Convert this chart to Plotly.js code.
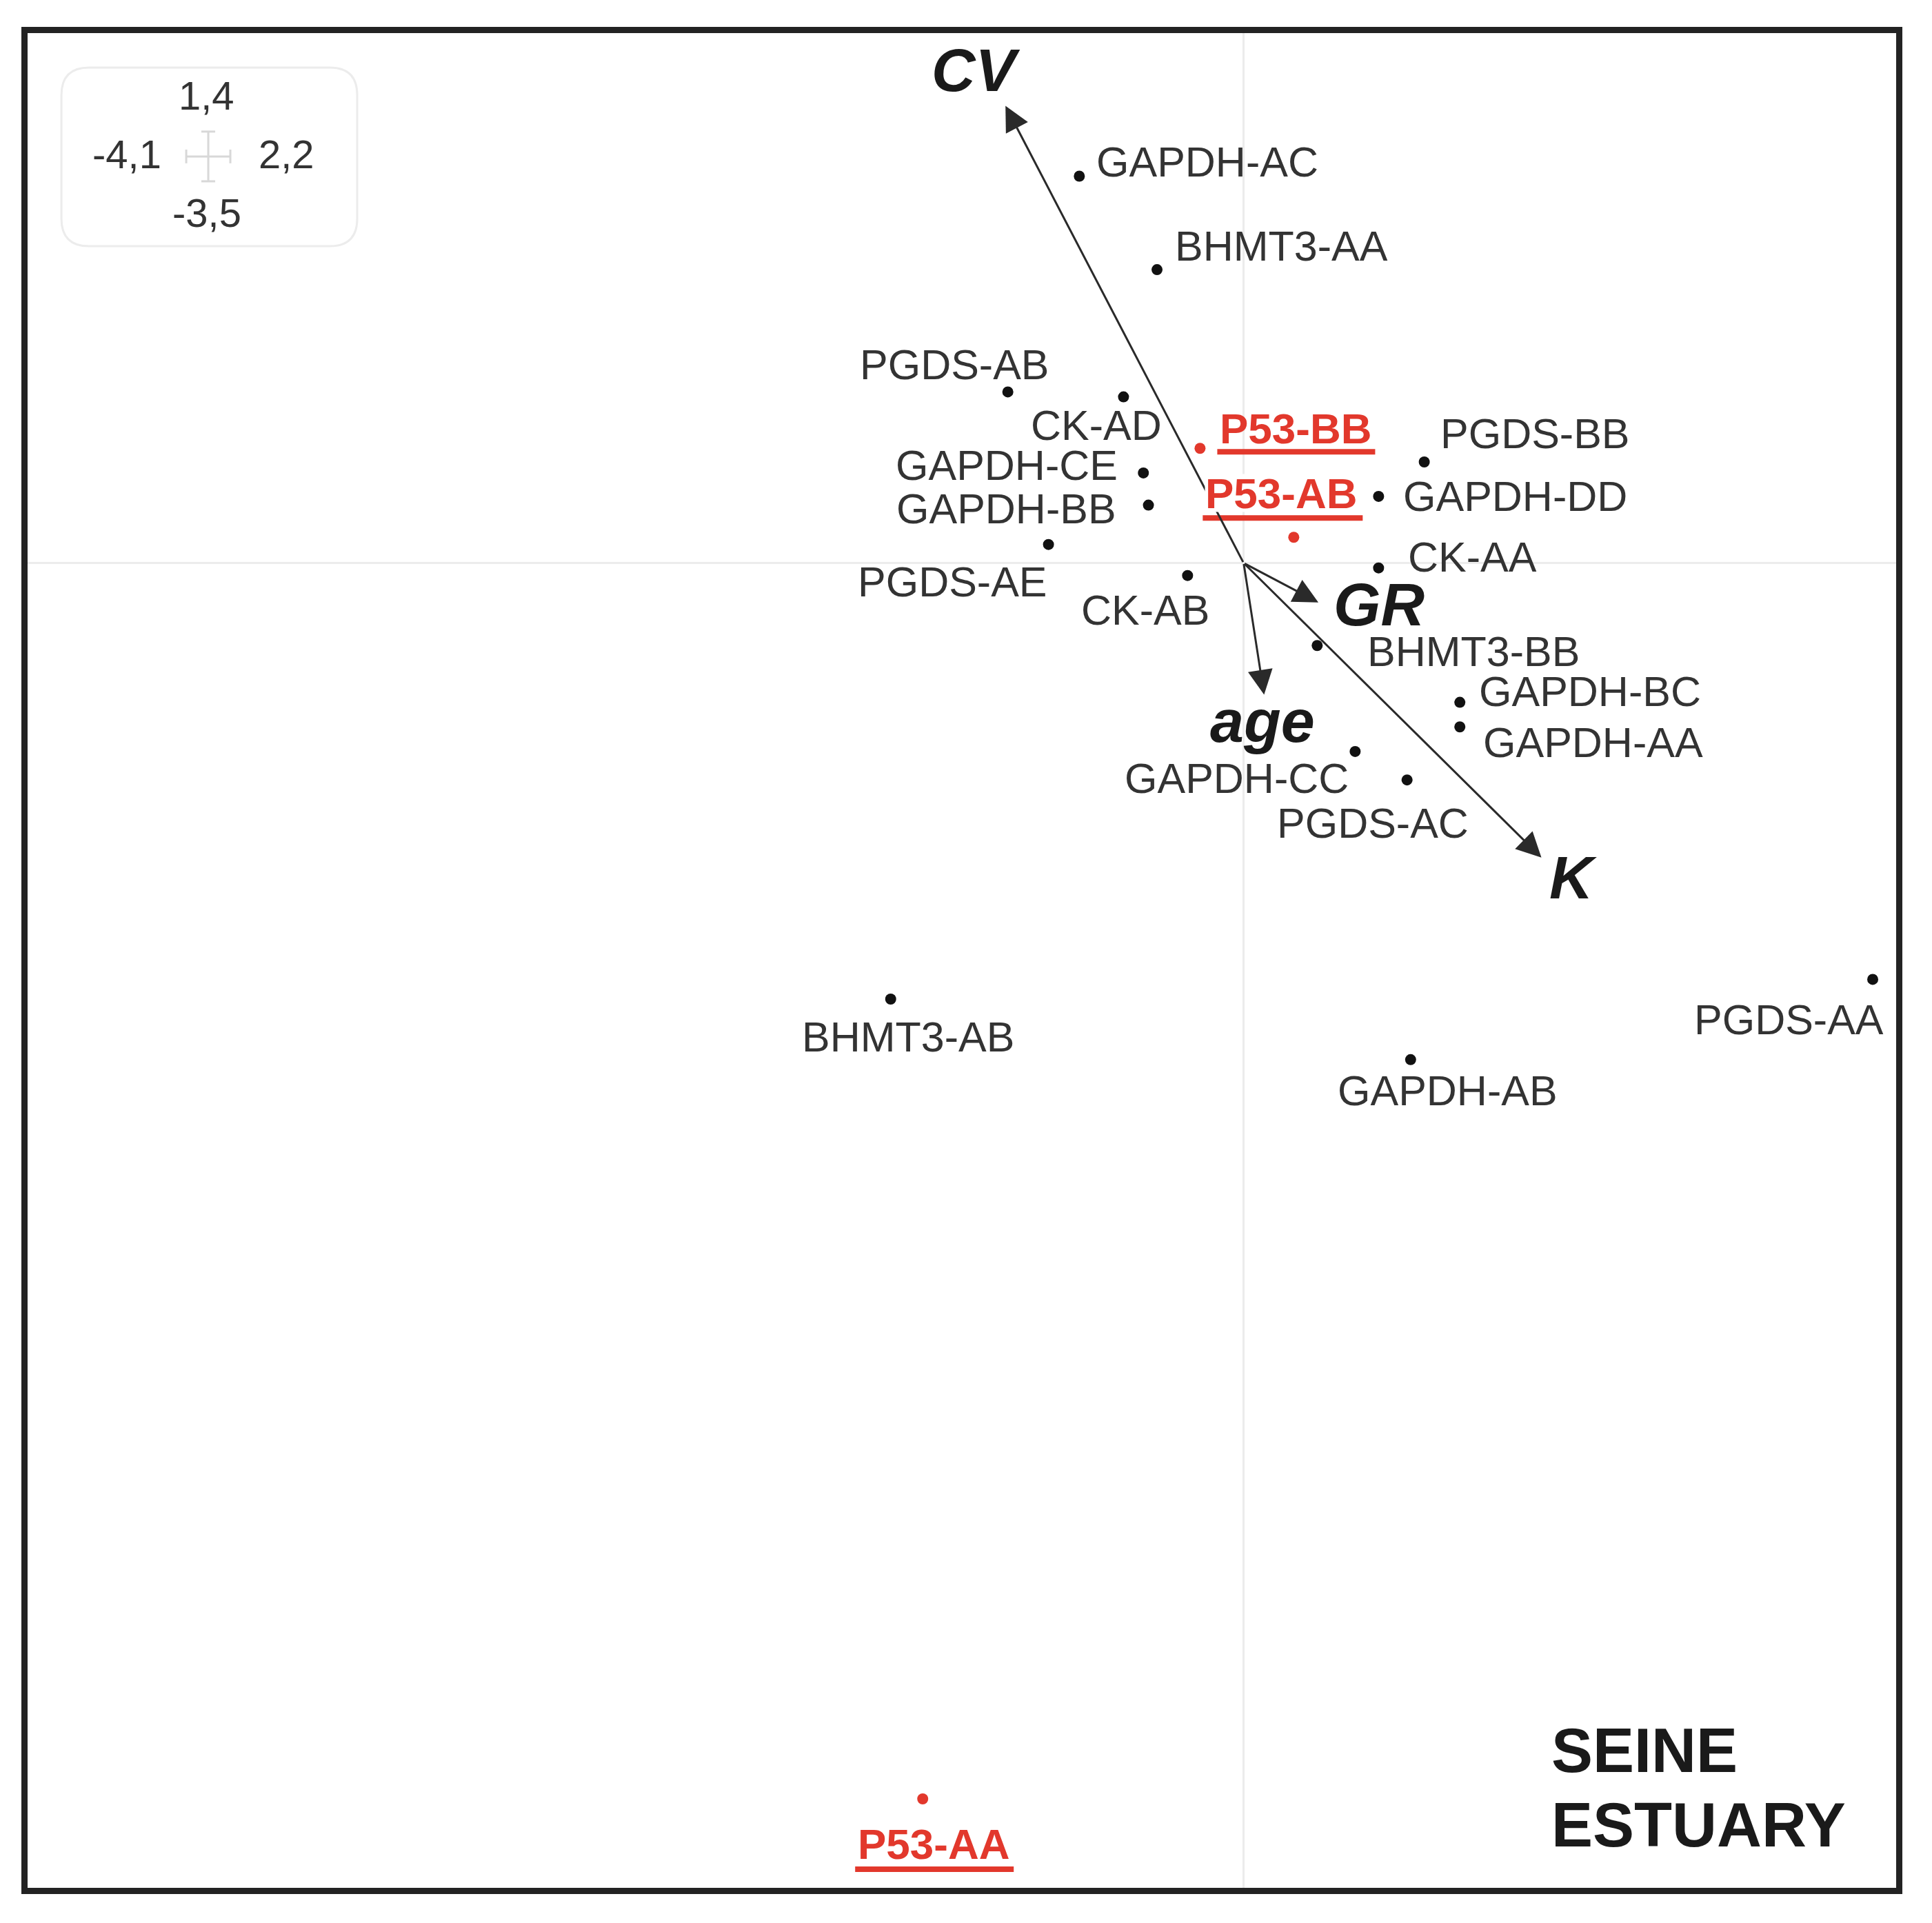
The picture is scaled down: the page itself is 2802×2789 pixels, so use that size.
<!DOCTYPE html>
<html>
<head>
<meta charset="utf-8">
<script src="https://cdn.plot.ly/plotly-3.0.1.min.js"></script>
<style>html,body{margin:0;padding:0;background:#fff;}#chart{width:2802px;height:2789px;}</style>
</head>
<body>
<div id="chart"></div>
<script>
// ---- data ----
const xRange = [-4.1, 2.2];
const yRange = [-3.5, 1.4];

const sampleNames = ["GAPDH-AC","BHMT3-AA","PGDS-AB","CK-AD","PGDS-BB","GAPDH-CE","GAPDH-BB","GAPDH-DD",
  "PGDS-AE","CK-AA","CK-AB","BHMT3-BB","GAPDH-BC","GAPDH-AA","GAPDH-CC","PGDS-AC","BHMT3-AB","GAPDH-AB","PGDS-AA"];
const sampleX = [-0.554,-0.292,-0.795,-0.405,0.609,-0.338,-0.321,0.455,
  -0.658,0.455,-0.189,0.248,0.729,0.729,0.376,0.551,-1.190,0.563,2.121];
const sampleY = [1.022,0.775,0.452,0.439,0.267,0.238,0.153,0.176,
  0.049,-0.013,-0.033,-0.218,-0.368,-0.433,-0.498,-0.573,-1.152,-1.312,-1.100];

const p53Names = ["P53-BB","P53-AB","P53-AA"];
const p53X = [-0.147, 0.169, -1.082];
const p53Y = [0.303, 0.068, -3.265];

const varNames = ["CV","GR","age","K"];
const varX = [-0.803, 0.252, 0.069, 1.004];
const varY = [1.208, -0.104, -0.348, -0.778];

const siteLines = ["SEINE","ESTUARY"];

// ---- layout helpers (label placement, pixels) ----
const sampleShift = [[186,21],[180,34],[-77,39],[-39,-41],[161,41],[-198,11],[-206,-5],[198,0],
  [-139,-54],[136,16],[-61,-50],[227,-9],[189,16],[193,-23],[-172,-39],[-50,-63],[25,-55],[54,-45],[-122,-59]];
const p53Shift = [[139,29],[-18,64],[16,-66]];
const p53Under = [[25,254,-9,-1],[-132,100,24,32],[-98,132,-106,-98]];
const varShift = [[-43,52],[88,-3],[-2,-38],[46,-29]];

const FONT = "Liberation Sans, Arial, Helvetica, sans-serif";
const TXT = "#333333";
const RED = "#e2382c";

const traces = [
  {type:"scatter", mode:"markers", x:sampleX, y:sampleY, text:sampleNames,
   marker:{color:"#111", size:16}, hoverinfo:"text", showlegend:false},
  {type:"scatter", mode:"markers", x:p53X, y:p53Y, text:p53Names,
   marker:{color:RED, size:16}, hoverinfo:"text", showlegend:false}
];

const annotations = [];
const shapes = [];

// variable arrows from origin
varNames.forEach((n,i)=>{
  annotations.push({x:varX[i], y:varY[i], xref:"x", yref:"y", ax:0, ay:0, axref:"x", ayref:"y",
    text:"", showarrow:true, arrowhead:2, arrowsize:2.4, arrowwidth:3, arrowcolor:"#2a2a2a", standoff:0});
});
varNames.forEach((n,i)=>{
  annotations.push({x:varX[i], y:varY[i], xref:"x", yref:"y", text:"<b><i>"+n+"</i></b>", showarrow:false,
    xshift:varShift[i][0], yshift:varShift[i][1], xanchor:"center", yanchor:"middle",
    font:{family:FONT, size:88, color:"#1a1a1a"}});
});

sampleNames.forEach((n,i)=>{
  annotations.push({x:sampleX[i], y:sampleY[i], xref:"x", yref:"y", text:n, showarrow:false,
    xshift:sampleShift[i][0], yshift:sampleShift[i][1], xanchor:"center", yanchor:"middle",
    font:{family:FONT, size:61, color:TXT}});
});
p53Names.forEach((n,i)=>{
  const a = {x:p53X[i], y:p53Y[i], xref:"x", yref:"y", text:"<b>"+n+"</b>", showarrow:false,
    xshift:p53Shift[i][0], yshift:p53Shift[i][1], xanchor:"center", yanchor:"middle",
    font:{family:FONT, size:62, color:RED}};
  if (i === 1) { a.bgcolor = "#ffffff"; a.borderpad = 0; a.height = 54; }
  annotations.push(a);
  shapes.push({type:"rect", xref:"x", yref:"y", xsizemode:"pixel", ysizemode:"pixel",
    xanchor:p53X[i], yanchor:p53Y[i], x0:p53Under[i][0], x1:p53Under[i][1], y0:p53Under[i][2], y1:p53Under[i][3],
    fillcolor:RED, line:{width:0}, layer:"above"});
});

// site label
annotations.push({xref:"paper", yref:"paper", x:0.8148, y:0.0740, xanchor:"left", yanchor:"middle",
  text:"<b>"+siteLines[0]+"</b>", showarrow:false, font:{family:FONT, size:90, color:"#1a1a1a"}});
annotations.push({xref:"paper", yref:"paper", x:0.8148, y:0.0338, xanchor:"left", yanchor:"middle",
  text:"<b>"+siteLines[1]+"</b>", showarrow:false, font:{family:FONT, size:90, color:"#1a1a1a"}});

// scale box in the corner
const fmt = v => String(v).replace(".", ",");
const boxTexts = [[fmt(yRange[1]),0.0959,0.9665],[fmt(xRange[0]),0.0531,0.9349],[fmt(xRange[1]),0.1384,0.9349],[fmt(yRange[0]),0.0959,0.9030]];
boxTexts.forEach(t=>{
  annotations.push({xref:"paper", yref:"paper", x:t[1], y:t[2], xanchor:"center", yanchor:"middle",
    text:t[0], showarrow:false, font:{family:FONT, size:58, color:TXT}});
});
// rounded box
(function(){
  const x0=0.0181,x1=0.1764,y0=0.8851,y1=0.9814,rx=0.0148,ry=0.0149;
  const p = `M${x0+rx},${y1} L${x1-rx},${y1} Q${x1},${y1} ${x1},${y1-ry} L${x1},${y0+ry} Q${x1},${y0} ${x1-rx},${y0} L${x0+rx},${y0} Q${x0},${y0} ${x0},${y0+ry} L${x0},${y1-ry} Q${x0},${y1} ${x0+rx},${y1} Z`;
  shapes.push({type:"path", xref:"paper", yref:"paper", path:p, line:{color:"#ececec", width:3}, fillcolor:"rgba(0,0,0,0)"});
  const cx=0.0967, cy=0.9335, hx=0.0118, hy=0.0134, tx=0.0037, ty=0.0037;
  const c = "#d8d8d8";
  [[cx-hx,cy,cx+hx,cy],[cx,cy-hy,cx,cy+hy],[cx-hx,cy-ty,cx-hx,cy+ty],[cx+hx,cy-ty,cx+hx,cy+ty],
   [cx-tx,cy+hy,cx+tx,cy+hy],[cx-tx,cy-hy,cx+tx,cy-hy]].forEach(s=>{
    shapes.push({type:"line", xref:"paper", yref:"paper", x0:s[0], y0:s[1], x1:s[2], y1:s[3], line:{color:c, width:3}});
  });
})();

const axisCommon = {showgrid:false, showticklabels:false, ticks:"", zeroline:true, zerolinecolor:"#ececec",
  zerolinewidth:3, showline:true, mirror:true, linecolor:"#232323", linewidth:9, fixedrange:true};

const layout = {
  width:2802, height:2789,
  margin:{l:40, r:52, t:48, b:51},
  paper_bgcolor:"#ffffff", plot_bgcolor:"#ffffff",
  xaxis:Object.assign({range:xRange}, axisCommon),
  yaxis:Object.assign({range:yRange}, axisCommon),
  annotations:annotations, shapes:shapes, showlegend:false
};

Plotly.newPlot("chart", traces, layout, {staticPlot:true});
</script>
</body>
</html>
